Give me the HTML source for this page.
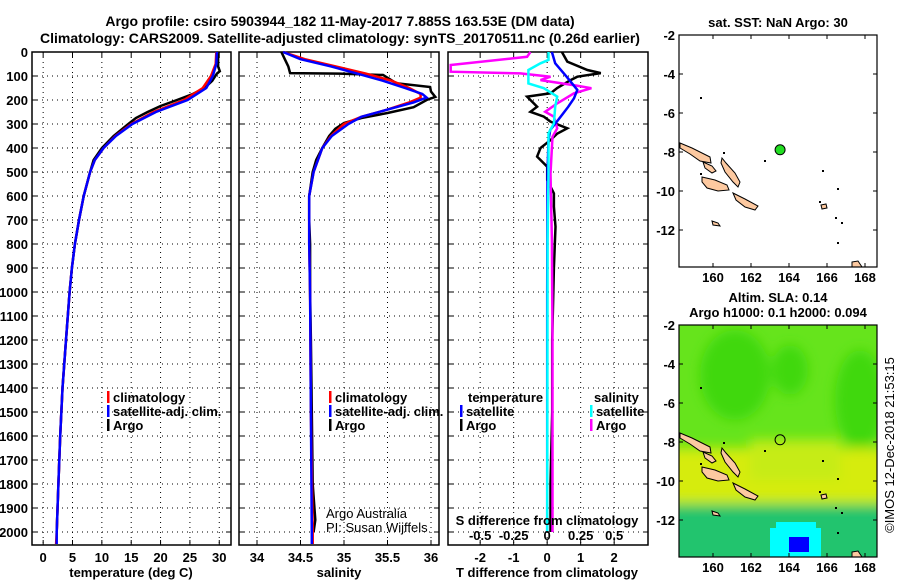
<!DOCTYPE html>
<html><head><meta charset="utf-8"><style>
body{margin:0;background:#fff;}
svg{display:block;font-family:"Liberation Sans",sans-serif;}
.b{font-weight:bold;font-size:13px;}
.t{font-weight:bold;font-size:14px;}
</style></head><body>
<svg id="c" width="900" height="580" xmlns="http://www.w3.org/2000/svg">
<text class="t" x="340" y="26" text-anchor="middle">Argo profile: csiro 5903944_182 11-May-2017 7.885S 163.53E (DM data)</text>
<text class="t" x="340" y="43" text-anchor="middle">Climatology: CARS2009. Satellite-adjusted climatology: synTS_20170511.nc (0.26d earlier)</text>
<g id="maps"></g>
<g id="plots"></g>
</svg>
<script>
// ---------- data ----------
const depthTicks=[0,100,200,300,400,500,600,700,800,900,1000,1100,1200,1300,1400,1500,1600,1700,1800,1900,2000];
const tempTicks=[0,5,10,15,20,25,30];
const salTicks=[34,34.5,35,35.5,36];
const diffTicks=[-2,-1,0,1,2];
const sdiffTicks=[-0.5,-0.25,0,0.25,0.5];
const sdiffLabels=["-0.5","-0.25","0","0.25","0.5"];
const argoTDepth=[0,20,60,80,90,120,150,175,200,225,250,275,300,350,400,450,500,600,700,800,900,1000,1200,1400,1600,1800,2000];
const argoT=[29.7,29.8,29.8,30.1,29.6,28.8,27.5,25.5,22.8,20,17.8,15.8,14.5,12,10,8.6,8,6.9,6.1,5.4,4.9,4.5,3.9,3.3,2.9,2.6,2.3];
const climTDepth=[0,50,100,150,200,250,300,350,400,450,500,600,700,800,900,1000,1200,1400,1600,1800,2000,2050];
const climT=[29.5,29.4,28.6,27.2,24,18.8,15,12.3,10.3,8.8,8,6.9,6.1,5.4,4.9,4.5,3.9,3.3,2.9,2.6,2.3,2.2];
const satT=[29.6,29.5,28.9,27.8,24.6,19.2,15.2,12.4,10.3,8.8,8,6.9,6.1,5.4,4.9,4.5,3.9,3.3,2.9,2.6,2.3,2.3];
const argoSDepth=[0,30,60,88,90,96,130,146,165,187,200,230,254,275,296,320,350,400,450,500,600,700,800,1000,1200,1500,1800,1950,2000];
const argoS=[34.28,34.32,34.36,34.38,34.95,35.45,35.6,35.99,36.0,36.05,35.95,35.8,35.5,35.2,35.0,34.9,34.83,34.75,34.68,34.64,34.6,34.6,34.61,34.61,34.62,34.63,34.64,34.67,34.65];
const climSDepth=[0,30,60,90,120,150,175,190,210,240,270,300,350,400,500,600,800,1000,1500,2000,2050];
const climS=[34.3,34.55,34.9,35.25,35.55,35.75,35.88,35.88,35.75,35.5,35.2,35.0,34.85,34.75,34.65,34.6,34.6,34.61,34.62,34.64,34.64];
const satS=[34.3,34.5,34.85,35.15,35.45,35.7,35.9,35.95,35.8,35.5,35.2,35.05,34.86,34.75,34.65,34.6,34.6,34.61,34.62,34.63,34.63];
const dTDepth=[0,40,75,88,103,117,150,172,186,214,228,249,269,290,318,340,367,400,436,478,533,589,644,728,900,1200,1500,1800,2000];
const dTArgo=[0.44,0.6,1.2,1.6,0.9,0.7,0.3,0.1,-0.6,-0.4,-0.3,-0.5,-0.1,0.1,0.6,0.3,0.1,-0.2,-0.3,0,0,0.2,0.2,0.25,0.2,0.15,0.15,0.1,0.1];
const dSArgoDepth=[0,20,54,82,89,103,117,140,151,172,214,249,269,318,353,506,783,1200,2000];
const dSArgo=[-0.125,-0.15,-0.72,-0.72,-0.2,0.025,-0.05,0.22,0.33,0.2,0.075,-0.015,0.05,0.075,0.04,0.025,0.035,0.04,0.04];
const dSSatDepth=[0,33,47,75,131,151,186,228,297,339,506,783,2000];
const dSSat=[0.01,0.01,-0.05,-0.14,-0.14,-0.025,0.075,0.06,0.05,0.01,0.01,0.003,0];
const dTSatDepth=[0,47,103,158,193,228,256,283,325,367,506,1000,2000];
const dTSat=[0.14,0.24,0.58,0.9,0.8,0.63,0.48,0.33,0.09,0.04,0.01,0,0];
const lonTicks=[160,162,164,166,168];
const latTicks=[-2,-4,-6,-8,-10,-12];
const argoLon=163.53, argoLat=-7.885;

const NS="http://www.w3.org/2000/svg";
function el(tag,attrs,parent,txt){const e=document.createElementNS(NS,tag);for(const k in attrs)e.setAttribute(k,attrs[k]);if(txt!==undefined)e.textContent=txt;parent.appendChild(e);return e;}
const plots=document.getElementById('plots');
const yD=d=>52+d*0.24;
const Y0=52,YB=545;
function panel(name,x0,x1,xmin,xmax){
  const g=el('g',{},plots);
  
  
  return {g,x:v=>x0+(v-xmin)/(xmax-xmin)*(x1-x0),x0,x1};
}
function grid(p,ticks,labels,showY){
  ticks.forEach((t,i)=>{const X=p.x(t);
    el('line',{x1:X,x2:X,y1:Y0,y2:YB,stroke:'#000','stroke-dasharray':'1,4','stroke-width':1},p.g);
    el('line',{x1:X,x2:X,y1:YB,y2:YB-5,stroke:'#000'},p.g);el('line',{x1:X,x2:X,y1:Y0,y2:Y0+5,stroke:'#000'},p.g);
    if(labels){const tx=el('text',{x:X,y:562,'text-anchor':'middle',class:'b'},p.g,labels[i]);
      }
  });
  depthTicks.forEach(d=>{const Y=yD(d);
    el('line',{x1:p.x0,x2:p.x1,y1:Y,y2:Y,stroke:'#000','stroke-dasharray':'1,4'},p.g);
    el('line',{x1:p.x0,x2:p.x0+5,y1:Y,y2:Y,stroke:'#000'},p.g);el('line',{x1:p.x1-5,x2:p.x1,y1:Y,y2:Y,stroke:'#000'},p.g);
    if(showY){const tx=el('text',{x:28,y:Y+5,'text-anchor':'end',class:'b'},p.g,String(d));
      }
  });
  el('rect',{x:p.x0,y:Y0,width:p.x1-p.x0,height:YB-Y0,fill:'none',stroke:'#000','stroke-width':1.5},p.g);
}
function line(p,vals,depths,color,name,scale){
  const pts=vals.map((v,i)=>p.x(v*(scale||1)).toFixed(1)+','+yD(depths[i]).toFixed(1)).join(' ');
  const l=el('polyline',{points:pts,fill:'none',stroke:color,'stroke-width':2.5},p.g);
  
  
}
function legend(p,x,y,items,titleTxt){
  items.forEach((it,i)=>{
    el('rect',{x:x,y:y+i*14-11,width:2.5,height:12,fill:it[0]},p.g);
    const t=el('text',{x:x+6,y:y+i*14,class:'b'},p.g,it[1]);
    
    
  });
}
// temperature
const p1=panel('temperature-panel',32,231,-1.9,32);
grid(p1,tempTicks,tempTicks.map(String),true);
line(p1,argoT,argoTDepth,'#000','argo-temperature-line');
line(p1,climT,climTDepth,'#f00','climatology-temperature-line');
line(p1,satT,climTDepth,'#00f','satellite-temperature-line');
legend(p1,107,402,[['#f00','climatology'],['#00f','satellite-adj. clim.'],['#000','Argo']]);
el('text',{x:131,y:577,'text-anchor':'middle',class:'b',},p1.g,'temperature (deg C)');
// salinity
const p2=panel('salinity-panel',239,439,33.793,36.092);
grid(p2,salTicks,['34','34.5','35','35.5','36'],false);
line(p2,argoS,argoSDepth,'#000','argo-salinity-line');
line(p2,climS,climSDepth,'#f00','climatology-salinity-line');
line(p2,satS,climSDepth,'#00f','satellite-salinity-line');
legend(p2,329,402,[['#f00','climatology'],['#00f','satellite-adj. clim.'],['#000','Argo']]);
el('text',{x:326,y:518,'font-size':'13',},p2.g,'Argo Australia');
el('text',{x:326,y:532,'font-size':'13',},p2.g,'PI: Susan Wijffels');
el('text',{x:339,y:577,'text-anchor':'middle',class:'b',},p2.g,'salinity');
// difference
const p3=panel('difference-panel',448,648,-2.96,3.01);
grid(p3,diffTicks,diffTicks.map(String),false);
line(p3,dTArgo,dTDepth,'#000','argo-temperature-difference-line');
line(p3,dSArgo,dSArgoDepth,'#f0f','argo-salinity-difference-line',4);
line(p3,dTSat,dTSatDepth,'#00f','satellite-temperature-difference-line');
line(p3,dSSat,dSSatDepth,'#0ff','satellite-salinity-difference-line',4);
el('text',{x:468,y:402,class:'b'},p3.g,'temperature');
el('text',{x:594,y:402,class:'b'},p3.g,'salinity');
legend(p3,460,416,[['#00f','satellite'],['#000','Argo']]);
legend(p3,590,416,[['#0ff','satellite'],['#f0f','Argo']]);
el('text',{x:547,y:525,'text-anchor':'middle',class:'b',},p3.g,'S difference from climatology');
sdiffTicks.forEach((s,i)=>{el('text',{x:p3.x(s*4),y:540,'text-anchor':'middle',class:'b'},p3.g,sdiffLabels[i]);});
el('text',{x:547,y:577,'text-anchor':'middle',class:'b',},p3.g,'T difference from climatology');

// ---------- maps ----------
const maps=document.getElementById('maps');
const MX0=679,MX1=877;
const lx=l=>MX0+(l-158.21)*19;
function islands(g,dy){
  const polys=[[[680,143],[692,148],[710,157],[711,163],[700,161],[690,154],[680,148]],
   [[722,158],[726,163],[735,173],[740,182],[738,187],[733,182],[725,172],[721,163]],
   [[702,177],[715,180],[727,185],[729,190],[718,191],[707,188],[702,182]],
   [[733,193],[745,199],[758,206],[755,210],[745,207],[736,200]],
   [[703,162],[712,166],[716,171],[712,173],[705,168]],
   [[821,205],[826,204],[827,208],[822,209]],[[852,262],[858,261],[862,267],[852,267]],[[712,221],[718,223],[720,226],[713,225]]];
  polys.forEach(p=>{el('polygon',{points:p.map(q=>q[0]+','+(q[1]+dy)).join(' '),fill:'#fdc9a0',stroke:'#000','stroke-width':1},g);});
  [[700,173],[700,173],[700,97],[822,170],[835,217],[841,222],[837,188],[819,201],[764,160],[723,152],[837,242]].forEach(q=>el('rect',{x:q[0],y:q[1]+dy,width:2,height:2,fill:'#000'},g));
}
function mapAxes(g,top,titles,name){
  const bot=top+232;
  const ly=l=>top+(-2-l)*19.5;
  el('rect',{x:MX0,y:top,width:MX1-MX0,height:bot-top,fill:'none',stroke:'#000','stroke-width':1.2},g);
  lonTicks.forEach(l=>{const X=lx(l);el('line',{x1:X,x2:X,y1:bot,y2:bot-4,stroke:'#000'},g);el('line',{x1:X,x2:X,y1:top,y2:top+4,stroke:'#000'},g);
    el('text',{x:X,y:bot+15,'text-anchor':'middle',class:'b'},g,String(l));});
  latTicks.forEach(l=>{const Y=ly(l);el('line',{x1:MX0,x2:MX0+4,y1:Y,y2:Y,stroke:'#000'},g);el('line',{x1:MX1-4,x2:MX1,y1:Y,y2:Y,stroke:'#000'},g);
    el('text',{x:675,y:Y+5,'text-anchor':'end',class:'b'},g,String(l));});
  titles.forEach((t,i)=>el('text',{x:778,y:top-(titles.length-i)*15+7,'text-anchor':'middle',class:'b'},g,t));
  return ly;
}
// top map
const gm1=el('g',{},maps);
islands(gm1,0);
const ly1=mapAxes(gm1,35,['sat. SST: NaN Argo: 30']);
const dot=el('circle',{cx:lx(argoLon),cy:ly1(argoLat),r:5,fill:'#22dd22',stroke:'#000'},gm1);


// bottom map
const gm2=el('g',{},maps);
el('defs',{},gm2).innerHTML='<clipPath id="mc"><rect x="679" y="325" width="198" height="232"/></clipPath><filter id="bl"><feGaussianBlur stdDeviation="6"/></filter>';
const fg=el('g',{'clip-path':'url(#mc)'},gm2);
el('rect',{x:679,y:325,width:198,height:232,fill:'#66e41c'},fg);
const bl=el('g',{filter:'url(#bl)'},fg);
el('ellipse',{cx:735,cy:375,rx:35,ry:45,fill:'#3fd808'},bl);
el('ellipse',{cx:790,cy:370,rx:18,ry:25,fill:'#3fd808'},bl);
el('ellipse',{cx:860,cy:400,rx:25,ry:50,fill:'#3fd808'},bl);
el('rect',{x:660,y:448,width:240,height:55,fill:'#d6ec10'},bl);
el('rect',{x:750,y:440,width:90,height:40,fill:'#c6ec18'},bl);
el('rect',{x:660,y:505,width:240,height:70,fill:'#22c46e'},bl);
el('rect',{x:770,y:528,width:51,height:29,fill:'#00ffff'},fg);
el('rect',{x:776,y:522,width:40,height:6,fill:'#00ffff'},fg);
el('rect',{x:789,y:537,width:20,height:15,fill:'#0000ff'},fg);
islands(gm2,290);
const ly2=mapAxes(gm2,325,['Altim. SLA: 0.14','Argo h1000: 0.1 h2000: 0.094']);
const dot2=el('circle',{cx:lx(argoLon),cy:ly2(argoLat),r:5,fill:'none',stroke:'#000'},gm2);


el('text',{x:0,y:0,'font-size':'13',transform:'translate(894,445) rotate(-90)','text-anchor':'middle',},maps,'©IMOS 12-Dec-2018 21:53:15');
</script>
</body></html>
